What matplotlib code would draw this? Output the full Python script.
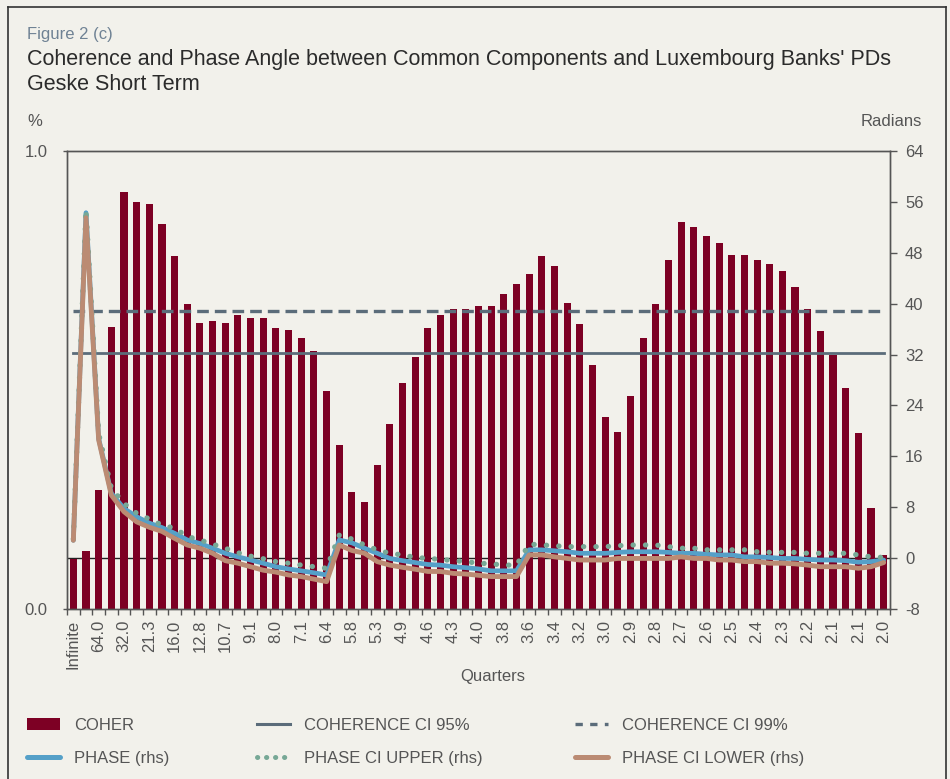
import numpy as np
import matplotlib
matplotlib.use("Agg")
import matplotlib.pyplot as plt
from matplotlib.transforms import blended_transform_factory
from matplotlib.lines import Line2D
from matplotlib.patches import Patch
from matplotlib.ticker import FixedLocator

# ---------------- data ----------------
period_labels = ["Infinite", "64.0", "32.0", "21.3", "16.0", "12.8", "10.7", "9.1", "8.0",
                 "7.1", "6.4", "5.8", "5.3", "4.9", "4.6", "4.3", "4.0", "3.8", "3.6",
                 "3.4", "3.2", "3.0", "2.9", "2.8", "2.7", "2.6", "2.5", "2.4", "2.3",
                 "2.2", "2.1", "2.1", "2.0"]

coher = [0.109, 0.127, 0.260, 0.616, 0.910, 0.888, 0.884, 0.840, 0.771, 0.665,
         0.624, 0.628, 0.624, 0.643, 0.635, 0.635, 0.614, 0.610, 0.592, 0.563,
         0.475, 0.358, 0.256, 0.234, 0.314, 0.405, 0.493, 0.551, 0.614, 0.643,
         0.654, 0.654, 0.662, 0.662, 0.687, 0.709, 0.731, 0.771, 0.749, 0.668,
         0.622, 0.533, 0.420, 0.387, 0.464, 0.591, 0.665, 0.763, 0.844, 0.833,
         0.815, 0.800, 0.774, 0.774, 0.763, 0.753, 0.738, 0.702, 0.654, 0.606,
         0.555, 0.482, 0.384, 0.220, 0.118]

coher_ci95 = 0.560
coher_ci99 = 0.651

phase = [2.8, 54.3, 18.8, 10.2, 7.8, 6.5, 5.5, 4.8, 3.9, 2.85,
         2.3, 1.55, 0.76, 0.2, -0.3, -0.8, -1.35, -1.7, -2.0, -2.3,
         -2.65, 2.85, 2.4, 1.55, 0.76, -0.05, -0.4, -0.7, -1.0, -1.1,
         -1.35, -1.5, -1.7, -2.0, -2.0, -2.0, 1.3, 1.3, 1.15, 1.0,
         0.76, 0.76, 0.76, 0.9, 1.0, 1.0, 1.0, 0.9, 0.76, 0.76,
         0.6, 0.5, 0.5, 0.2, 0.2, 0.1, -0.05, -0.05, -0.2, -0.3,
         -0.3, -0.4, -0.65, -0.55, -0.3]

phase_upper = [3.0, 54.8, 19.6, 11.0, 8.6, 7.05, 6.15, 5.2, 4.7, 3.4,
               2.85, 2.2, 1.55, 0.85, 0.3, -0.1, -0.55, -0.8, -1.1, -1.35,
               -1.6, 3.6, 3.0, 2.06, 1.3, 0.76, 0.5, 0.1, -0.05, -0.2,
               -0.4, -0.55, -0.8, -0.9, -1.1, -1.1, 2.2, 2.06, 1.95, 1.8,
               1.8, 1.8, 1.8, 1.95, 2.06, 2.06, 2.06, 1.8, 1.55, 1.55,
               1.3, 1.3, 1.3, 1.3, 1.0, 0.9, 0.9, 0.9, 0.76, 0.76,
               0.76, 0.76, 0.5, 0.2, 0.1]

phase_lower = [2.8, 53.5, 18.6, 9.9, 7.3, 5.7, 4.85, 4.2, 3.1, 2.06,
               1.55, 0.76, -0.4, -0.8, -1.35, -1.9, -2.2, -2.65, -2.9, -3.3,
               -3.7, 2.06, 1.2, 0.76, -0.55, -1.1, -1.45, -1.75, -2.1, -2.1,
               -2.4, -2.5, -2.7, -2.9, -2.9, -2.9, 0.5, 0.5, 0.2, -0.05,
               -0.3, -0.3, -0.3, -0.05, -0.05, -0.05, -0.05, -0.05, 0.2, -0.05,
               -0.05, -0.3, -0.3, -0.55, -0.55, -0.8, -0.8, -0.9, -1.1, -1.35,
               -1.35, -1.35, -1.6, -1.35, -0.7]

left_ticks = [0.0, 1.0]
left_tick_labels = ["0.0", "1.0"]
right_ticks = [-8, 0, 8, 16, 24, 32, 40, 48, 56, 64]

# ---------------- style ----------------
BG = "#f2f1eb"
BAR = "#7d0024"
SLATE = "#5b6c7a"
BLUE = "#55a0c8"
GREEN = "#77a896"
TAN = "#bb8b73"
TXT = "#555555"
plt.rcParams["font.family"] = ["Liberation Sans", "DejaVu Sans"]

W, H = 950, 779
fig = plt.figure(figsize=(W / 100, H / 100), dpi=100, facecolor=BG)

def fx(px):
    return px / W

def fy(py):
    return 1 - py / H

ax_l, ax_r, ax_t, ax_b = 67, 890, 151, 609
ax = fig.add_axes([fx(ax_l), fy(ax_b), fx(ax_r - ax_l), (ax_b - ax_t) / H])
ax.set_facecolor(BG)
ax2 = ax.twinx()

n = len(coher)
x = np.arange(n)

ax.bar(x, coher, width=0.56, color=BAR, zorder=2)
ax.plot(x, np.full(n, coher_ci95), color=SLATE, lw=2.0, zorder=3)
ax.plot(x, np.full(n, coher_ci99), color=SLATE, lw=2.4, dashes=(3.5, 1.8), zorder=3)

ax.set_xlim(-0.5, n - 0.5)
ax.set_ylim(0, 1.0)
ax2.set_ylim(-8, 64)

# zero line of the right axis, drawn behind the bars
blend = blended_transform_factory(ax.transAxes, ax2.transData)
ax.plot([0, 1], [0, 0], transform=blend, color="#222222", lw=1.0, zorder=1)

ax2.plot(x, phase, color=BLUE, lw=3.4, solid_capstyle="round", solid_joinstyle="round", zorder=4)
ax2.plot(x, phase_upper, color=GREEN, lw=3.8, dashes=(0.05, 2.3), dash_capstyle="round", zorder=5)
ax2.plot(x, phase_lower, color=TAN, lw=3.5, solid_capstyle="round", solid_joinstyle="round", zorder=6)

for a in (ax, ax2):
    for s in a.spines.values():
        s.set_color("#555555")
        s.set_linewidth(1.0)

# x ticks
ax.set_xticks(x[::2])
ax.set_xticklabels(period_labels, rotation=90, va="top", ha="center", fontsize=12, color=TXT)
ax.tick_params(axis="x", which="major", length=0, pad=8)
ax.xaxis.set_minor_locator(FixedLocator(np.arange(n + 1) - 0.5))
ax.tick_params(axis="x", which="minor", length=4.3, width=1, color="#555555", direction="out")

# left y
ax.set_yticks(left_ticks)
ax.set_yticklabels(left_tick_labels, fontsize=12, color=TXT)
ax.tick_params(axis="y", length=3, width=1, color="#555555", pad=11)

# right y
ax2.set_yticks(right_ticks)
ax2.set_yticklabels([str(t) for t in right_ticks], fontsize=12, color=TXT)
ax2.tick_params(axis="y", length=4.8, width=1, color="#555555", pad=6)

# texts
fig.text(fx(27), fy(34), "Figure 2 (c)", fontsize=12, color="#6f8294", va="center", ha="left")
fig.text(fx(27), fy(59), "Coherence and Phase Angle between Common Components and Luxembourg Banks' PDs",
         fontsize=15.5, color="#2b2b2b", va="center", ha="left")
fig.text(fx(27), fy(84), "Geske Short Term", fontsize=15.5, color="#2b2b2b", va="center", ha="left")
fig.text(fx(27), fy(122), "%", fontsize=12, color=TXT, va="center", ha="left")
fig.text(fx(922), fy(122), "Radians", fontsize=12, color=TXT, va="center", ha="right")
fig.text(fx(493), fy(676), "Quarters", fontsize=12, color=TXT, va="center", ha="center")

# frame around the figure
fig.add_artist(Line2D([fx(8), fx(8)], [0, fy(7)], color="#333333", lw=1.2))
fig.add_artist(Line2D([fx(8), fx(946)], [fy(7), fy(7)], color="#333333", lw=1.2))
fig.add_artist(Line2D([fx(946), fx(946)], [0, fy(7)], color="#333333", lw=1.2))

# legends: three columns
cols = [
    (27, [Patch(facecolor=BAR, edgecolor="none"),
          Line2D([], [], color=BLUE, lw=3.6, solid_capstyle="round")],
         ["COHER", "PHASE (rhs)"]),
    (257, [Line2D([], [], color=SLATE, lw=2.2),
           Line2D([], [], color=GREEN, lw=3.6, dashes=(0.05, 1.75), dash_capstyle="round")],
          ["COHERENCE CI 95%", "PHASE CI UPPER (rhs)"]),
    (575, [Line2D([], [], color=SLATE, lw=2.4, dashes=(2.2, 2.2)),
           Line2D([], [], color=TAN, lw=3.6, solid_capstyle="round")],
          ["COHERENCE CI 99%", "PHASE CI LOWER (rhs)"]),
]
for px, handles, labels in cols:
    fig.legend(handles, labels, loc="upper left", bbox_to_anchor=(fx(px), fy(718)),
               frameon=False, fontsize=12, labelcolor=TXT, borderpad=0, borderaxespad=0,
               handlelength=1.95, handleheight=0.75, handletextpad=0.85, labelspacing=1.05)

fig.savefig("out.png", dpi=100, facecolor=BG)
